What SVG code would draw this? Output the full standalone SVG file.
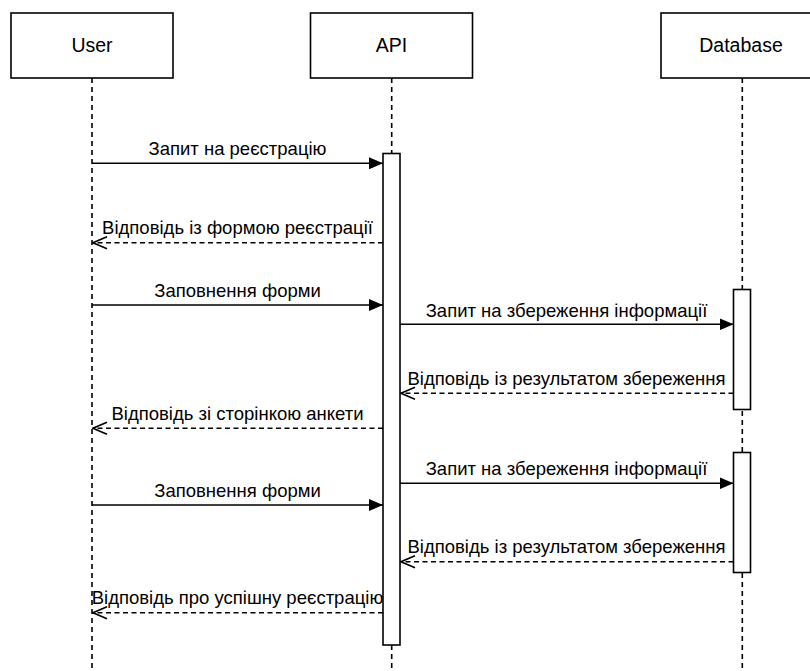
<svg xmlns="http://www.w3.org/2000/svg" width="810" height="671" viewBox="0 0 810 671">
  <style>
    .box { fill: #ffffff; stroke: #000000; stroke-width: 1.6; }
    .life { stroke: #000000; stroke-width: 1.6; stroke-dasharray: 5 4; fill: none; }
    .act { fill: #ffffff; stroke: #000000; stroke-width: 1.6; }
    .msg { stroke: #000000; stroke-width: 1.6; fill: none; }
    .ret { stroke: #000000; stroke-width: 1.6; fill: none; stroke-dasharray: 5 3.5; }
    text { font-family: "Liberation Sans", Arial, sans-serif; font-size: 18.5px; fill: #000000; text-anchor: middle; }
    .title { font-size: 19.5px; }
  </style>
  <defs>
    <marker id="solid" viewBox="0 0 14 12" refX="14" refY="6" markerWidth="14" markerHeight="12" markerUnits="userSpaceOnUse" orient="auto">
      <path d="M0,0 L14,6 L0,12 Z" fill="#000000"/>
    </marker>
    <marker id="open" viewBox="0 0 16 14" refX="15" refY="7" markerWidth="16" markerHeight="14" markerUnits="userSpaceOnUse" orient="auto">
      <path d="M1,1 L15,7 L1,13" fill="none" stroke="#000000" stroke-width="1.6"/>
    </marker>
  </defs>

  <rect width="810" height="671" fill="#ffffff"/>

  <!-- lifelines -->
  <g id="lifelines">
    <line class="life" x1="92" y1="78" x2="92" y2="671"/>
    <line class="life" x1="391.7" y1="78" x2="391.7" y2="671"/>
    <line class="life" x1="742.3" y1="78" x2="742.3" y2="671"/>
  </g>

  <!-- participants -->
  <g id="user">
    <rect class="box" x="11" y="13" width="162" height="65"/>
    <text class="title" x="92" y="52">User</text>
  </g>
  <g id="api">
    <rect class="box" x="310.5" y="13" width="162" height="65"/>
    <text class="title" x="391.5" y="52">API</text>
  </g>
  <g id="database">
    <rect class="box" x="661" y="13" width="162" height="65"/>
    <text class="title" x="741" y="52">Database</text>
  </g>

  <!-- activation bars -->
  <g id="api-activation">
    <rect class="act" x="383" y="153.5" width="17" height="491.5"/>
  </g>
  <g id="db-activation-1">
    <rect class="act" x="733.5" y="289.5" width="17" height="120"/>
  </g>
  <g id="db-activation-2">
    <rect class="act" x="733.5" y="452.5" width="17" height="120"/>
  </g>

  <!-- messages -->
  <g id="connectors">
    <line class="msg" x1="92" y1="163.3" x2="383" y2="163.3" marker-end="url(#solid)"/>
    <line class="ret" x1="383" y1="242.7" x2="93" y2="242.7" marker-end="url(#open)"/>
    <line class="msg" x1="92" y1="305" x2="383" y2="305" marker-end="url(#solid)"/>
    <line class="msg" x1="400" y1="324.3" x2="733.5" y2="324.3" marker-end="url(#solid)"/>
    <line class="ret" x1="733.5" y1="393.3" x2="401" y2="393.3" marker-end="url(#open)"/>
    <line class="ret" x1="383" y1="428.3" x2="93" y2="428.3" marker-end="url(#open)"/>
    <line class="msg" x1="400" y1="483.3" x2="733.5" y2="483.3" marker-end="url(#solid)"/>
    <line class="msg" x1="92" y1="505" x2="383" y2="505" marker-end="url(#solid)"/>
    <line class="ret" x1="733.5" y1="561.7" x2="401" y2="561.7" marker-end="url(#open)"/>
    <line class="ret" x1="383" y1="612.7" x2="93" y2="612.7" marker-end="url(#open)"/>
  </g>

  <!-- message labels -->
  <g id="labels">
    <text x="237.5" y="155">Запит на реєстрацію</text>
    <text x="237.5" y="234">Відповідь із формою реєстрації</text>
    <text x="237.5" y="297">Заповнення форми</text>
    <text x="566.5" y="316.5">Запит на збереження інформації</text>
    <text x="566.5" y="385">Відповідь із результатом збереження</text>
    <text x="237.5" y="420">Відповідь зі сторінкою анкети</text>
    <text x="566.5" y="475">Запит на збереження інформації</text>
    <text x="237.5" y="497">Заповнення форми</text>
    <text x="566.5" y="553">Відповідь із результатом збереження</text>
    <text x="237.5" y="604">Відповідь про успішну реєстрацію</text>
  </g>
</svg>
